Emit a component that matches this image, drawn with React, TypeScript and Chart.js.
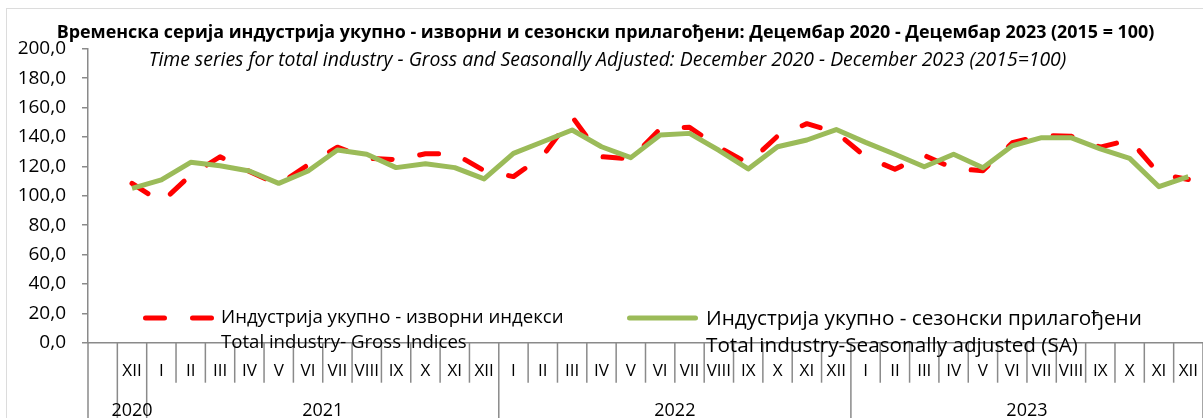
import React, { useEffect, useRef } from 'react';
import { Chart, registerables } from 'chart.js';

Chart.register(...registerables);

// ---- data ----
const monthLabels: string[] = [
  '',
  'XII',
  'I', 'II', 'III', 'IV', 'V', 'VI', 'VII', 'VIII', 'IX', 'X', 'XI', 'XII',
  'I', 'II', 'III', 'IV', 'V', 'VI', 'VII', 'VIII', 'IX', 'X', 'XI', 'XII',
  'I', 'II', 'III', 'IV', 'V', 'VI', 'VII', 'VIII', 'IX', 'X', 'XI', 'XII',
];
const yearLabels: string[] = ['', '2020', '2021', '2022', '2023'];
const yearSpans: number[] = [1, 1, 12, 12, 12];

const grossIndices: (number | null)[] = [
  null,
  108.4,
  95.5, 114, 126.5, 116.5, 107.5, 121, 133, 125.5, 124.5, 128.5, 128.5, 117,
  113, 127, 153.7, 126.5, 125, 145.5, 146.5, 133, 122, 140.5, 149, 143,
  126.5, 118, 127.5, 118.5, 117, 136, 141, 140.5, 133, 138, 115, 111,
];
const seasonallyAdjusted: (number | null)[] = [
  null,
  105,
  110.7, 122.7, 120.4, 116.8, 108.4, 116.8, 131.1, 128.2, 119.1, 121.8, 119.1, 111.4,
  128.8, 136.7, 144.7, 133.3, 125.9, 141.3, 142.4, 130.9, 118.2, 133.3, 137.9, 145,
  136.3, 128.2, 119.7, 128.2, 119, 134, 139.5, 139.5, 131.8, 125.4, 106.1, 112.9,
];

const titleText = 'Временска серија индустрија укупно - изворни и сезонски прилагођени: Децембар 2020 - Децембар 2023 (2015 = 100)';
const subtitleText = 'Time series for total industry - Gross and Seasonally Adjusted: December 2020 - December 2023 (2015=100)';
const grossLegend = ['Индустрија укупно - изворни индекси', 'Total industry- Gross Indices'];
const saLegend = ['Индустрија укупно - сезонски прилагођени', 'Total industry-Seasonally adjusted (SA)'];

// ---- styles ----
const FONT = '"Open Sans", "Noto Sans", sans-serif';
const AXIS_COLOR = '#8a8a8a';
const RED = '#FF0000';
const GREEN = '#9BBB59';
const W = 1203;
const H = 418;

const overlayPlugin = {
  id: 'overlay',
  beforeDraw(chart: any) {
    const { ctx } = chart;
    ctx.save();
    ctx.fillStyle = '#ffffff';
    ctx.fillRect(0, 0, W, H);
    ctx.strokeStyle = '#dcdcdc';
    ctx.lineWidth = 1;
    ctx.strokeRect(6.5, 8.5, W + 20, H + 20);
    ctx.restore();
  },
  afterDraw(chart: any) {
    const { ctx, chartArea } = chart;
    const xs = chart.scales.x;
    ctx.save();

    // titles
    ctx.fillStyle = '#000';
    ctx.textAlign = 'center';
    ctx.textBaseline = 'middle';
    ctx.font = `bold 17.9px ${FONT}`;
    ctx.fillText(titleText, 605.5, 33);
    ctx.font = `italic 19.4px ${FONT}`;
    ctx.fillText(subtitleText, 607.5, 60);

    // x axis line
    ctx.strokeStyle = AXIS_COLOR;
    ctx.lineWidth = 1.5;
    ctx.beginPath();
    ctx.moveTo(chartArea.left, chartArea.bottom);
    ctx.lineTo(chartArea.right, chartArea.bottom);
    ctx.stroke();

    // category separators
    const n = monthLabels.length;
    const step = xs.getPixelForValue(1) - xs.getPixelForValue(0);
    const start = xs.getPixelForValue(0) - step / 2;
    const groupBounds = new Set<number>();
    let acc = 0;
    yearSpans.forEach((s) => { groupBounds.add(acc); acc += s; });
    groupBounds.add(acc);
    for (let i = 0; i <= n; i++) {
      const bx = start + i * step;
      const long = groupBounds.has(i);
      ctx.beginPath();
      ctx.moveTo(bx, chartArea.bottom);
      ctx.lineTo(bx, long ? H : chartArea.bottom + 40);
      ctx.stroke();
    }

    // month labels
    ctx.fillStyle = '#000';
    ctx.textAlign = 'center';
    ctx.textBaseline = 'middle';
    ctx.font = `17px ${FONT}`;
    monthLabels.forEach((m, i) => {
      if (!m) return;
      ctx.fillText(m, xs.getPixelForValue(i), 371);
    });

    // year labels
    ctx.font = `18px ${FONT}`;
    acc = 0;
    yearSpans.forEach((s, gi) => {
      const cx = start + (acc + s / 2) * step;
      if (yearLabels[gi]) ctx.fillText(yearLabels[gi], cx, 411);
      acc += s;
    });

    // legend
    const ds = chart.data.datasets;
    ctx.lineCap = 'round';
    ctx.lineWidth = 5;
    ctx.strokeStyle = ds[0].borderColor;
    ctx.setLineDash(ds[0].borderDash);
    ctx.beginPath();
    ctx.moveTo(145.5, 318);
    ctx.lineTo(212.5, 318);
    ctx.stroke();
    ctx.setLineDash([]);
    ctx.strokeStyle = ds[1].borderColor;
    ctx.beginPath();
    ctx.moveTo(629.5, 318);
    ctx.lineTo(695.5, 318);
    ctx.stroke();

    ctx.textAlign = 'left';
    ctx.fillStyle = '#000';
    ctx.font = `18.6px ${FONT}`;
    ctx.fillText(grossLegend[0], 221, 318);
    ctx.fillText(grossLegend[1], 221, 343);
    ctx.font = `20.7px ${FONT}`;
    ctx.fillText(saLegend[0], 706, 319);
    ctx.fillText(saLegend[1], 706, 346);

    ctx.restore();
  },
};

export default function App() {
  const canvasRef = useRef<HTMLCanvasElement | null>(null);

  useEffect(() => {
    const canvas = canvasRef.current;
    if (!canvas) return;
    const chart = new Chart(canvas, {
      type: 'line',
      data: {
        labels: monthLabels,
        datasets: [
          {
            label: grossLegend[0],
            data: grossIndices,
            borderColor: RED,
            borderWidth: 5,
            borderDash: [19, 28],
            borderCapStyle: 'round',
            borderJoinStyle: 'round',
            pointRadius: 0,
            tension: 0,
            fill: false,
            order: 2,
          },
          {
            label: saLegend[0],
            data: seasonallyAdjusted,
            borderColor: GREEN,
            borderWidth: 5,
            borderCapStyle: 'butt',
            borderJoinStyle: 'round',
            pointRadius: 0,
            tension: 0,
            fill: false,
            order: 1,
          },
        ],
      },
      options: {
        animation: false,
        responsive: false,
        maintainAspectRatio: false,
        devicePixelRatio: 1,
        layout: { padding: { top: 48.7, right: 0, bottom: 75.3, left: 0 } },
        plugins: {
          legend: { display: false },
          title: { display: false },
          tooltip: { enabled: false },
        },
        scales: {
          x: { type: 'category', display: false, offset: true },
          y: {
            min: 0,
            max: 200,
            ticks: {
              stepSize: 20,
              callback: (v: any) => Number(v).toFixed(1).replace('.', ','),
              font: { family: FONT, size: 19 },
              color: '#000',
              padding: 16,
            },
            grid: { drawOnChartArea: false, tickLength: 6, color: AXIS_COLOR, lineWidth: 1.5 },
            border: { color: AXIS_COLOR, width: 1.5 },
            afterFit: (s: any) => { s.width = 88; },
          },
        },
      },
      plugins: [overlayPlugin],
    } as any);
    return () => chart.destroy();
  }, []);

  return (
    <canvas
      ref={canvasRef}
      width={W}
      height={H}
      style={{ position: 'fixed', left: 0, top: 0, width: W, height: H, display: 'block' }}
    />
  );
}
